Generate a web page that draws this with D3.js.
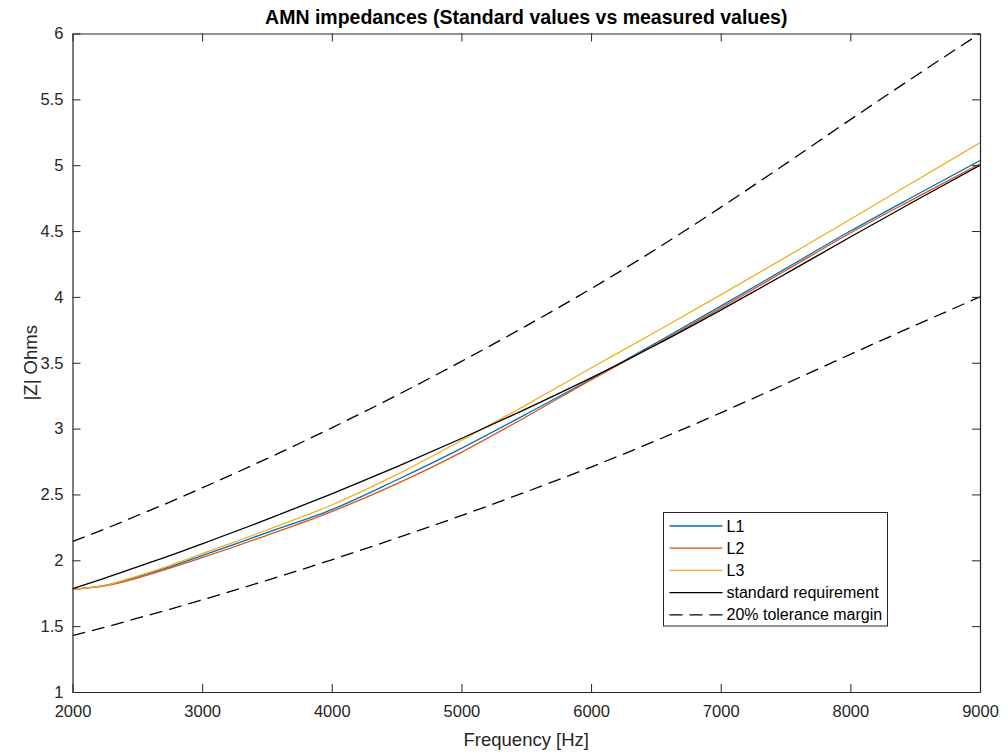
<!DOCTYPE html>
<html>
<head>
<meta charset="utf-8">
<script src="https://cdn.jsdelivr.net/npm/d3@7"></script>
<style>
  html, body { margin: 0; padding: 0; background: #fff; }
  svg { display: block; font-family: "Liberation Sans", Arial, Helvetica, sans-serif; }
</style>
</head>
<body>
<svg id="chart" width="1008" height="753"></svg>
<script>
// Frequency points (Hz)
const freq = [2000, 2250, 2500, 2750, 3000, 3500, 4000, 4500, 5000, 5500, 6000, 6500, 7000, 7500, 8000, 8500, 9000];

// Measured |Z| per line (Ohms)
const L1 = [1.78, 1.81, 1.875, 1.95, 2.035, 2.21, 2.385, 2.61, 2.85, 3.11, 3.375, 3.65, 3.93, 4.215, 4.5, 4.77, 5.035];
const L2 = [1.78, 1.805, 1.865, 1.94, 2.02, 2.19, 2.37, 2.58, 2.82, 3.09, 3.37, 3.64, 3.915, 4.2, 4.485, 4.75, 5.01];
const L3 = [1.78, 1.81, 1.88, 1.96, 2.05, 2.23, 2.42, 2.65, 2.91, 3.18, 3.46, 3.735, 4.015, 4.30, 4.59, 4.88, 5.17];

// Standard requirement |Z| (Ohms)
const standard = [1.785, 1.865, 1.95, 2.035, 2.125, 2.31, 2.505, 2.71, 2.925, 3.15, 3.385, 3.635, 3.9, 4.175, 4.455, 4.73, 5.0];

// Tolerance band around the standard
const tolerance = 0.2;
const upperMargin = standard.map(v => v * (1 + tolerance));
const lowerMargin = standard.map(v => v * (1 - tolerance));

// Axis ticks
const xTicks = [2000, 3000, 4000, 5000, 6000, 7000, 8000, 9000];
const yTicks = [1, 1.5, 2, 2.5, 3, 3.5, 4, 4.5, 5, 5.5, 6];

const dashed = "13,7";
const series = [
  { name: "L1", values: L1, color: "#0072BD", dash: null },
  { name: "L2", values: L2, color: "#D95319", dash: null },
  { name: "L3", values: L3, color: "#EDB120", dash: null },
  { name: "standard requirement", values: standard, color: "#000000", dash: null },
  { name: "20% tolerance margin", values: upperMargin, color: "#000000", dash: dashed },
  { name: null, values: lowerMargin, color: "#000000", dash: dashed }
];

const margin = { left: 72.5, right: 28, top: 33.5, bottom: 61 };
const W = 1008, H = 753;
const axisColor = "#262626";

const svg = d3.select("#chart");
const x = d3.scaleLinear().domain([2000, 9000]).range([margin.left, W - margin.right]);
const y = d3.scaleLinear().domain([1, 6]).range([H - margin.bottom, margin.top]);

const line = d3.line()
  .x(d => x(d[0]))
  .y(d => y(d[1]))
  .curve(d3.curveMonotoneX);

// Clip to plot area
svg.append("defs").append("clipPath").attr("id", "plotclip")
  .append("rect")
  .attr("x", x(2000)).attr("y", y(6))
  .attr("width", x(9000) - x(2000)).attr("height", y(1) - y(6));

const plot = svg.append("g").attr("clip-path", "url(#plotclip)");
series.forEach(s => {
  plot.append("path")
    .datum(freq.map((f, i) => [f, s.values[i]]))
    .attr("d", line)
    .attr("fill", "none")
    .attr("stroke", s.color)
    .attr("stroke-width", 1.3)
    .attr("stroke-dasharray", s.dash);
});

// Axes: ticks point inward, box around the plot
const tickLen = 8;
const fmtY = d => String(d);

const axisBottomG = svg.append("g").attr("transform", `translate(0,${y(1)})`)
  .call(d3.axisBottom(x).tickValues(xTicks).tickSizeInner(-tickLen).tickSizeOuter(0).tickPadding(13).tickFormat(d3.format("d")));
const axisTopG = svg.append("g").attr("transform", `translate(0,${y(6)})`)
  .call(d3.axisTop(x).tickValues(xTicks).tickSizeInner(-tickLen).tickSizeOuter(0).tickFormat(""));
const axisLeftG = svg.append("g").attr("transform", `translate(${x(2000)},0)`)
  .call(d3.axisLeft(y).tickValues(yTicks).tickSizeInner(-tickLen).tickSizeOuter(0).tickPadding(9).tickFormat(fmtY));
const axisRightG = svg.append("g").attr("transform", `translate(${x(9000)},0)`)
  .call(d3.axisRight(y).tickValues(yTicks).tickSizeInner(-tickLen).tickSizeOuter(0).tickFormat(""));

[axisBottomG, axisTopG, axisLeftG, axisRightG].forEach(g => {
  g.select(".domain").attr("stroke", axisColor).attr("stroke-width", 1.2);
  g.selectAll(".tick line").attr("stroke", axisColor).attr("stroke-width", 1);
  g.selectAll(".tick text").attr("fill", axisColor).style("font-size", "16.5px").style("font-family", "'Liberation Sans', Arial, sans-serif");
});

// Titles
svg.append("text")
  .attr("x", (x(2000) + x(9000)) / 2).attr("y", 24)
  .attr("text-anchor", "middle")
  .attr("fill", "#000")
  .style("font-size", "19.5px").style("font-weight", "bold")
  .text("AMN impedances (Standard values vs measured values)");

svg.append("text")
  .attr("x", (x(2000) + x(9000)) / 2).attr("y", 746)
  .attr("text-anchor", "middle")
  .attr("fill", axisColor)
  .style("font-size", "18.5px")
  .text("Frequency [Hz]");

svg.append("text")
  .attr("transform", `translate(37,${(y(1) + y(6)) / 2}) rotate(-90)`)
  .attr("text-anchor", "middle")
  .attr("fill", axisColor)
  .style("font-size", "18.5px")
  .text("|Z| Ohms");

// Legend
const legendItems = series.filter(s => s.name);
const lg = svg.append("g").attr("transform", "translate(663.5,512.5)");
lg.append("rect")
  .attr("width", 224).attr("height", 113.5)
  .attr("fill", "#fff").attr("stroke", axisColor).attr("stroke-width", 1);
legendItems.forEach((s, i) => {
  const cy = 13.5 + i * 22.2;
  lg.append("line")
    .attr("x1", 6).attr("x2", 59).attr("y1", cy).attr("y2", cy)
    .attr("stroke", s.color).attr("stroke-width", 1.3)
    .attr("stroke-dasharray", s.dash);
  lg.append("text")
    .attr("x", 63).attr("y", cy + 5.5)
    .attr("fill", "#000")
    .style("font-size", "16px")
    .text(s.name);
});
</script>
</body>
</html>
